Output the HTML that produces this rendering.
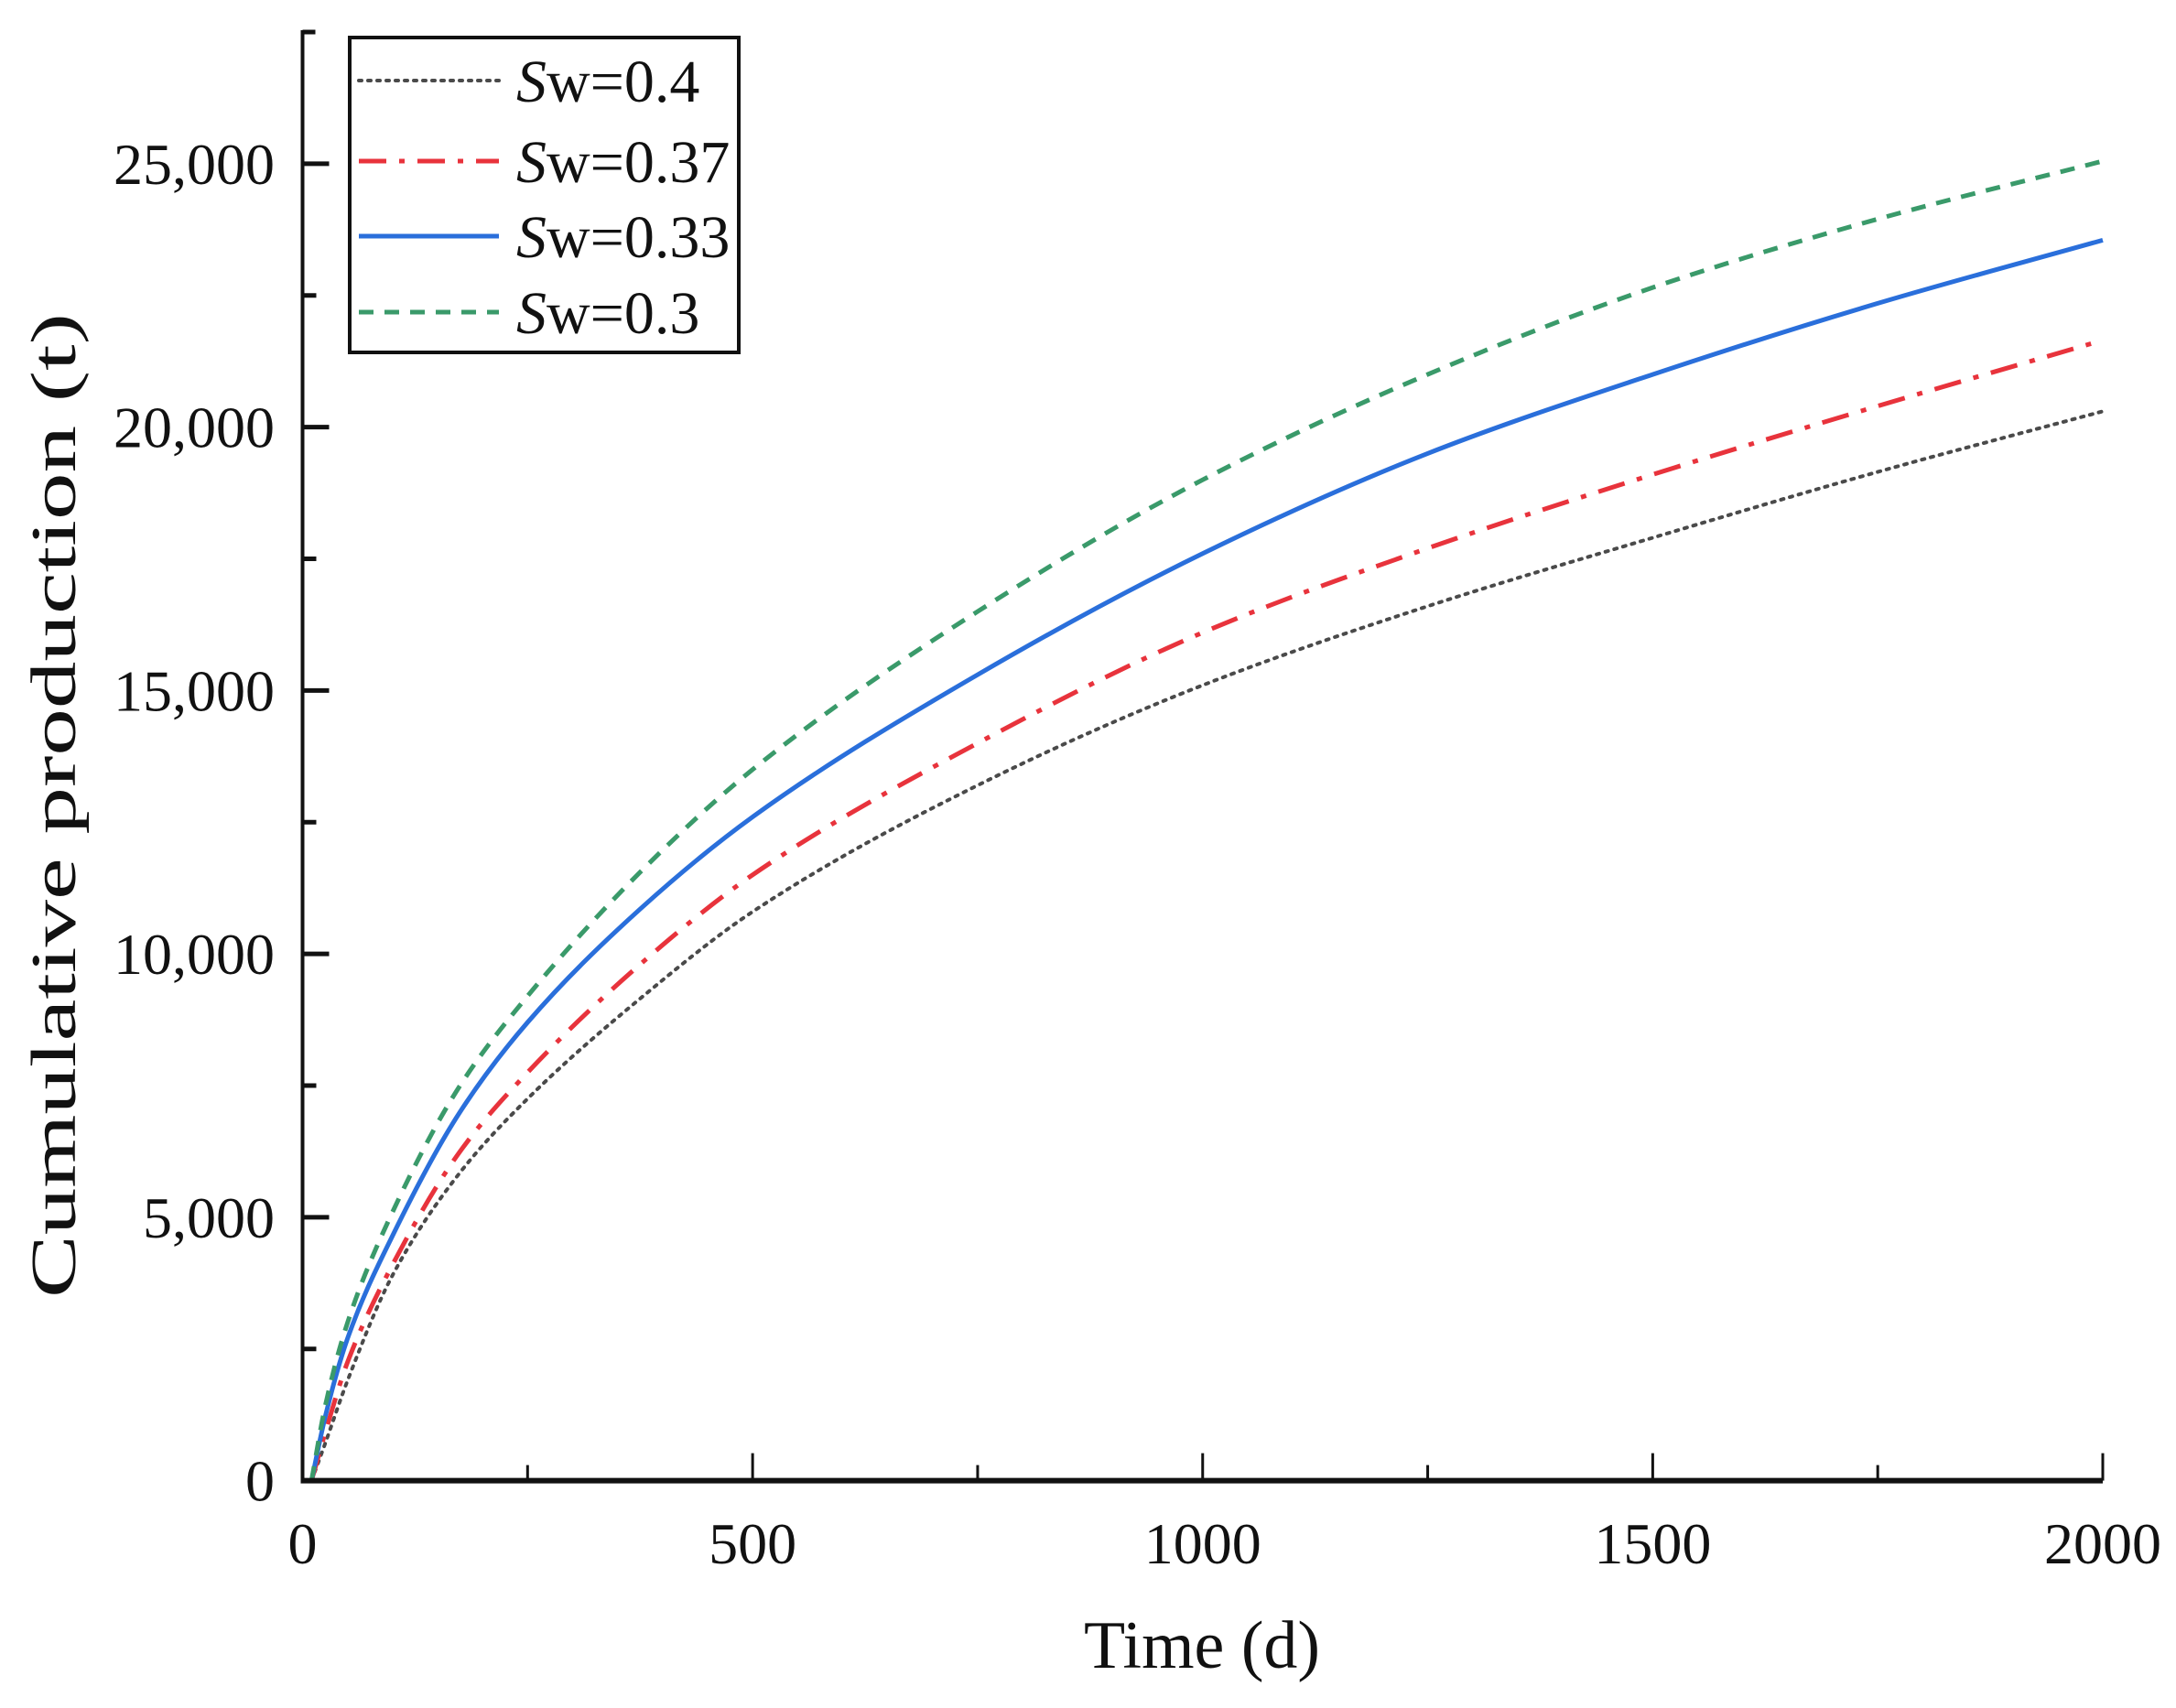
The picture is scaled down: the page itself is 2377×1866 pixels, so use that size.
<!DOCTYPE html>
<html><head><meta charset="utf-8"><style>
html,body{margin:0;padding:0;background:#fff;}
svg{display:block;}
text{font-family:"Liberation Serif",serif;fill:#111;}
</style></head><body>
<svg id="chart" width="2377" height="1866" viewBox="0 0 2377 1866" xmlns="http://www.w3.org/2000/svg">
<g id="series-layer"></g>
<g id="axis-layer"></g>
<g id="legend-layer"></g>
</svg>
<script>
const times = [10, 25, 50, 100, 175, 250, 375, 500, 750, 1000, 1250, 1500, 1750, 2000];
const sw04 = [0, 0.7, 1.9, 3.9, 5.85, 7.25, 9.15, 10.8, 13.2, 15.1, 16.6, 17.9, 19.15, 20.3];
const sw037 = [0, 0.9, 2.25, 4.1, 6.25, 7.75, 9.8, 11.5, 14.0, 16.1, 17.7, 19.1, 20.4, 21.65];
const sw033 = [0, 1.2, 2.7, 4.65, 7.0, 8.7, 10.85, 12.6, 15.3, 17.6, 19.5, 21.0, 22.35, 23.55];
const sw03 = [0, 1.4, 3.0, 5.1, 7.5, 9.2, 11.55, 13.5, 16.5, 19.0, 21.0, 22.65, 23.95, 25.05];
const seriesNames = ["Sw=0.4", "Sw=0.37", "Sw=0.33", "Sw=0.3"];
const xTickValues = [0, 500, 1000, 1500, 2000];
const xMinorValues = [250, 750, 1250, 1750];
const yTickValues = [0, 5000, 10000, 15000, 20000, 25000];
const yTickLabels = ["0", "5,000", "10,000", "15,000", "20,000", "25,000"];
const yMinorValues = [2500, 7500, 12500, 17500, 22500];

const NS = "http://www.w3.org/2000/svg";
const X0 = 330.5, X1 = 2297, Y0 = 1617.6, Y1 = 178.9;
function xScale(t){ return X0 + (t/2000)*(X1-X0); }
function yScale(v){ return Y0 - (v/25000)*(Y0-Y1); }
function mk(tag, attrs, parent){
  const e = document.createElementNS(NS, tag);
  for (const k in attrs) e.setAttribute(k, attrs[k]);
  parent.appendChild(e); return e;
}
const axes = document.getElementById('axis-layer');
const series = document.getElementById('series-layer');
const legend = document.getElementById('legend-layer');

let yl = mk('line',{x1:X0,y1:33,x2:X0,y2:Y0+2,stroke:'#111','stroke-width':4},axes);


let xl = mk('line',{x1:X0-2,y1:Y0,x2:X1,y2:Y0,stroke:'#111','stroke-width':6},axes);


let tt = mk('line',{x1:X0,y1:35,x2:X0+14,y2:35,stroke:'#111','stroke-width':5},axes);



xTickValues.forEach(v=>{
  const x = xScale(v);
  if (v>0){
    const l = mk('line',{x1:x,y1:Y0,x2:x,y2:Y0-30,stroke:'#111','stroke-width':3},axes);
    
    
  }
  const t = mk('text',{x:x,y:1708,'font-size':64,'text-anchor':'middle'},axes);
  t.textContent = String(v);
  
  
});
xMinorValues.forEach(v=>{
  const x = xScale(v);
  const l = mk('line',{x1:x,y1:Y0,x2:x,y2:Y0-17,stroke:'#111','stroke-width':3},axes);
  
  
});
yTickValues.forEach((v,i)=>{
  const y = yScale(v);
  if (v>0){
    const l = mk('line',{x1:X0,y1:y,x2:X0+29,y2:y,stroke:'#111','stroke-width':5},axes);
    
    
  }
  const t = mk('text',{x:300,y:y+22,'font-size':64,'text-anchor':'end'},axes);
  t.textContent = yTickLabels[i];
  
  
});
yMinorValues.forEach(v=>{
  const y = yScale(v);
  const l = mk('line',{x1:X0,y1:y,x2:X0+15,y2:y,stroke:'#111','stroke-width':5},axes);
  
  
});
let xt = mk('text',{x:1313,y:1822,'font-size':74,'text-anchor':'middle',textLength:258,lengthAdjust:'spacingAndGlyphs'},axes);
xt.textContent = 'Time (d)';


let ytl = mk('text',{x:0,y:0,'font-size':70,'text-anchor':'middle',textLength:1076,lengthAdjust:'spacingAndGlyphs',transform:'translate(82,880) rotate(-90)'},axes);
ytl.textContent = 'Cumulative production (t)';



const styles = [
  {c:'#4a4a4a', w:4, d:'3 7', cap:'round'},
  {c:'#e8333c', w:5, d:'30 14 6 14', cap:'butt'},
  {c:'#2a6fdb', w:5, d:'', cap:'butt'},
  {c:'#3a9a6a', w:5, d:'16 12', cap:'butt'}
];
const allSeries = [sw04, sw037, sw033, sw03];
function pathFor(vals){
  const xs = times.map(xScale), ys = vals.map(v=>yScale(v*1000));
  const n = xs.length, dl = [], m = [];
  for (let i=0;i<n-1;i++) dl.push((ys[i+1]-ys[i])/(xs[i+1]-xs[i]));
  m[0]=dl[0]; m[n-1]=dl[n-2];
  for (let i=1;i<n-1;i++){
    if (dl[i-1]*dl[i]<=0) m[i]=0;
    else { const h0=xs[i]-xs[i-1], h1=xs[i+1]-xs[i];
      const w1=2*h1+h0, w2=h1+2*h0;
      m[i]=(w1+w2)/(w1/dl[i-1]+w2/dl[i]); }
  }
  let d='M'+xs[0]+','+ys[0];
  for (let i=0;i<n-1;i++){
    const h=xs[i+1]-xs[i];
    d+=' C'+(xs[i]+h/3)+','+(ys[i]+m[i]*h/3)+' '+(xs[i+1]-h/3)+','+(ys[i+1]-m[i+1]*h/3)+' '+xs[i+1]+','+ys[i+1];
  }
  return d;
}
allSeries.forEach((vals,i)=>{
  const s = styles[i];
  const el = mk('path',{d:pathFor(vals),fill:'none',stroke:s.c,'stroke-width':s.w,'stroke-dasharray':s.d,'stroke-linecap':s.cap},series);
  
  
});

let box = mk('rect',{x:382,y:41,width:425,height:344,fill:'#fff',stroke:'#111','stroke-width':4},legend);


const legY = [88, 176, 258, 341];
seriesNames.forEach((n,i)=>{
  const s = styles[i];
  const y = legY[i];
  const g = mk('g',{},legend);
  
  
  mk('line',{x1:392,y1:y,x2:545,y2:y,stroke:s.c,'stroke-width':s.w,'stroke-dasharray':s.d,'stroke-linecap':s.cap},g);
  const t = mk('text',{x:564,y:y+23,'font-size':66},g);
  const it = mk('tspan',{'font-style':'italic'},t);
  it.textContent = 'S';
  const rest = mk('tspan',{},t);
  rest.textContent = n.slice(1);
});
</script>
</body></html>
